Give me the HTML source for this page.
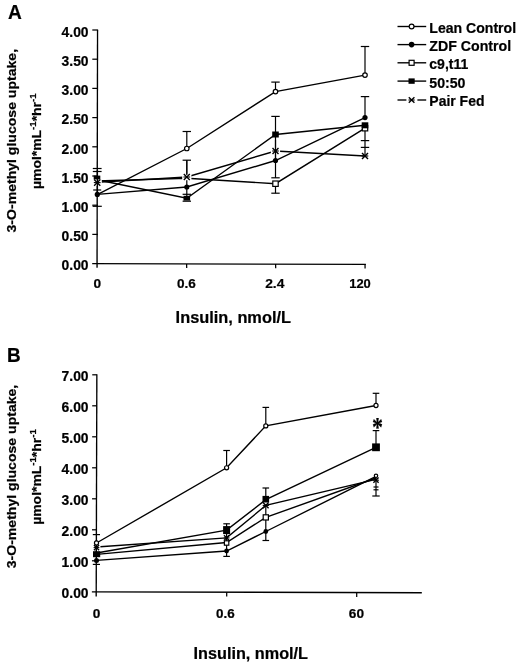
<!DOCTYPE html>
<html lang="en">
<head>
<meta charset="utf-8">
<title>Figure: 3-O-methyl glucose uptake vs insulin</title>
<style>
  html, body { margin: 0; padding: 0; background: #ffffff; }
  body { width: 520px; height: 664px; overflow: hidden; font-family: "Liberation Sans", Arial, sans-serif; }
  svg { display: block; will-change: transform; }
</style>
</head>
<body>
<svg width="520" height="664" viewBox="0 0 520 664" font-family="'Liberation Sans', Arial, Helvetica, sans-serif" font-weight="bold" fill="#000" stroke="#000">
<rect x="0" y="0" width="520" height="664" fill="#fff" stroke="none"/>
<g stroke="#000" stroke-width="0.22">
<text x="8.00" y="19.10" font-size="20.4" text-anchor="start" textLength="13.8" lengthAdjust="spacingAndGlyphs">A</text>
<text x="7.00" y="362.10" font-size="20.4" text-anchor="start" textLength="13.7" lengthAdjust="spacingAndGlyphs">B</text>
<text x="88.60" y="270.40" font-size="13.9" text-anchor="end" textLength="27.0" lengthAdjust="spacingAndGlyphs">0.00</text>
<text x="88.60" y="241.20" font-size="13.9" text-anchor="end" textLength="27.0" lengthAdjust="spacingAndGlyphs">0.50</text>
<text x="88.60" y="212.00" font-size="13.9" text-anchor="end" textLength="27.0" lengthAdjust="spacingAndGlyphs">1.00</text>
<text x="88.60" y="182.80" font-size="13.9" text-anchor="end" textLength="27.0" lengthAdjust="spacingAndGlyphs">1.50</text>
<text x="88.60" y="153.60" font-size="13.9" text-anchor="end" textLength="27.0" lengthAdjust="spacingAndGlyphs">2.00</text>
<text x="88.60" y="124.40" font-size="13.9" text-anchor="end" textLength="27.0" lengthAdjust="spacingAndGlyphs">2.50</text>
<text x="88.60" y="95.20" font-size="13.9" text-anchor="end" textLength="27.0" lengthAdjust="spacingAndGlyphs">3.00</text>
<text x="88.60" y="66.00" font-size="13.9" text-anchor="end" textLength="27.0" lengthAdjust="spacingAndGlyphs">3.50</text>
<text x="88.60" y="36.80" font-size="13.9" text-anchor="end" textLength="27.0" lengthAdjust="spacingAndGlyphs">4.00</text>
<text x="97.30" y="287.60" font-size="13.4" text-anchor="middle" textLength="7.6" lengthAdjust="spacingAndGlyphs">0</text>
<text x="186.40" y="287.60" font-size="13.4" text-anchor="middle" textLength="18.9" lengthAdjust="spacingAndGlyphs">0.6</text>
<text x="274.80" y="287.60" font-size="13.4" text-anchor="middle" textLength="19.2" lengthAdjust="spacingAndGlyphs">2.4</text>
<text x="360.00" y="287.60" font-size="13.4" text-anchor="middle" textLength="21.6" lengthAdjust="spacingAndGlyphs">120</text>
<text x="175.60" y="323.30" font-size="16.6" text-anchor="start" textLength="115.4" lengthAdjust="spacingAndGlyphs">Insulin, nmol/L</text>
<text x="88.60" y="597.80" font-size="13.9" text-anchor="end" textLength="27.0" lengthAdjust="spacingAndGlyphs">0.00</text>
<text x="88.60" y="566.80" font-size="13.9" text-anchor="end" textLength="27.0" lengthAdjust="spacingAndGlyphs">1.00</text>
<text x="88.60" y="535.80" font-size="13.9" text-anchor="end" textLength="27.0" lengthAdjust="spacingAndGlyphs">2.00</text>
<text x="88.60" y="504.80" font-size="13.9" text-anchor="end" textLength="27.0" lengthAdjust="spacingAndGlyphs">3.00</text>
<text x="88.60" y="473.80" font-size="13.9" text-anchor="end" textLength="27.0" lengthAdjust="spacingAndGlyphs">4.00</text>
<text x="88.60" y="442.80" font-size="13.9" text-anchor="end" textLength="27.0" lengthAdjust="spacingAndGlyphs">5.00</text>
<text x="88.60" y="411.80" font-size="13.9" text-anchor="end" textLength="27.0" lengthAdjust="spacingAndGlyphs">6.00</text>
<text x="88.60" y="380.80" font-size="13.9" text-anchor="end" textLength="27.0" lengthAdjust="spacingAndGlyphs">7.00</text>
<text x="96.50" y="618.30" font-size="13.4" text-anchor="middle" textLength="7.6" lengthAdjust="spacingAndGlyphs">0</text>
<text x="225.40" y="618.30" font-size="13.4" text-anchor="middle" textLength="18.7" lengthAdjust="spacingAndGlyphs">0.6</text>
<text x="356.40" y="618.30" font-size="13.4" text-anchor="middle" textLength="15.2" lengthAdjust="spacingAndGlyphs">60</text>
<text x="193.60" y="658.90" font-size="16.6" text-anchor="start" textLength="114.4" lengthAdjust="spacingAndGlyphs">Insulin, nmol/L</text>
<g transform="translate(15.9,140.7) rotate(-90)">
<text x="0.00" y="0.00" font-size="13.3" text-anchor="middle" textLength="183.5" lengthAdjust="spacingAndGlyphs">3-O-methyl glucose uptake,</text>
</g>
<g transform="translate(41.3,141.2) rotate(-90)">
<text x="0" y="0" font-size="13.3" text-anchor="middle" textLength="95.6" lengthAdjust="spacingAndGlyphs">&#181;mol*mL<tspan font-size="9.2" dy="-5.0">-1</tspan><tspan dy="5.0">*hr</tspan><tspan font-size="9.2" dy="-5.0">-1</tspan></text>
</g>
<g transform="translate(15.9,476.5) rotate(-90)">
<text x="0.00" y="0.00" font-size="13.3" text-anchor="middle" textLength="183.5" lengthAdjust="spacingAndGlyphs">3-O-methyl glucose uptake,</text>
</g>
<g transform="translate(41.3,477.0) rotate(-90)">
<text x="0" y="0" font-size="13.3" text-anchor="middle" textLength="95.6" lengthAdjust="spacingAndGlyphs">&#181;mol*mL<tspan font-size="9.2" dy="-5.0">-1</tspan><tspan dy="5.0">*hr</tspan><tspan font-size="9.2" dy="-5.0">-1</tspan></text>
</g>
<text x="429.30" y="32.70" font-size="14.8" text-anchor="start" textLength="86.8" lengthAdjust="spacingAndGlyphs">Lean Control</text>
<text x="429.30" y="51.00" font-size="14.8" text-anchor="start" textLength="81.8" lengthAdjust="spacingAndGlyphs">ZDF Control</text>
<text x="429.30" y="69.40" font-size="14.8" text-anchor="start" textLength="39.0" lengthAdjust="spacingAndGlyphs">c9,t11</text>
<text x="429.30" y="87.80" font-size="14.8" text-anchor="start" textLength="36.2" lengthAdjust="spacingAndGlyphs">50:50</text>
<text x="429.30" y="106.30" font-size="14.8" text-anchor="start" textLength="55.2" lengthAdjust="spacingAndGlyphs">Pair Fed</text>
<text transform="translate(377.5,436.4) scale(0.88,1.06)" x="0" y="0" font-size="25" text-anchor="middle" font-weight="bold" font-family="'Liberation Serif', 'Times New Roman', serif">*</text>
</g>
<line x1="97.55" y1="29.70" x2="97.05" y2="267.70" stroke-width="1.35"/>
<line x1="92.20" y1="263.60" x2="365.90" y2="264.40" stroke-width="1.35"/>
<line x1="92.30" y1="234.40" x2="97.80" y2="234.40" stroke-width="1.25"/>
<line x1="92.30" y1="205.20" x2="97.80" y2="205.20" stroke-width="1.25"/>
<line x1="92.30" y1="176.00" x2="97.80" y2="176.00" stroke-width="1.25"/>
<line x1="92.30" y1="146.80" x2="97.80" y2="146.80" stroke-width="1.25"/>
<line x1="92.30" y1="117.60" x2="97.80" y2="117.60" stroke-width="1.25"/>
<line x1="92.30" y1="88.40" x2="97.80" y2="88.40" stroke-width="1.25"/>
<line x1="92.30" y1="59.20" x2="97.80" y2="59.20" stroke-width="1.25"/>
<line x1="92.30" y1="30.00" x2="97.80" y2="30.00" stroke-width="1.25"/>
<line x1="186.60" y1="263.90" x2="186.70" y2="267.90" stroke-width="1.25"/>
<line x1="275.60" y1="263.90" x2="275.70" y2="268.15" stroke-width="1.25"/>
<line x1="365.00" y1="263.90" x2="365.10" y2="268.40" stroke-width="1.25"/>
<polyline points="97.30,194.60 186.80,148.50 275.50,91.60 365.00,75.10" fill="none" stroke-width="1.38"/>
<polyline points="97.30,194.40 186.80,187.00 275.50,160.50 365.00,117.60" fill="none" stroke-width="1.38"/>
<polyline points="97.00,181.00 186.80,178.20 275.50,183.70 365.00,128.20" fill="none" stroke-width="1.38"/>
<polyline points="97.00,179.80 186.80,198.20 275.50,134.50 365.00,125.30" fill="none" stroke-width="1.38"/>
<polyline points="97.00,182.40 186.80,177.00 275.50,151.00 365.00,156.00" fill="none" stroke-width="1.38"/>
<line x1="92.80" y1="168.50" x2="101.60" y2="168.50" stroke-width="1.2"/>
<line x1="92.80" y1="171.50" x2="101.60" y2="171.50" stroke-width="1.2"/>
<line x1="93.20" y1="190.00" x2="101.20" y2="190.00" stroke-width="1.2"/>
<line x1="92.60" y1="206.30" x2="101.80" y2="206.30" stroke-width="1.2"/>
<line x1="186.80" y1="148.50" x2="186.80" y2="131.50" stroke-width="1.2"/>
<line x1="182.60" y1="131.50" x2="191.00" y2="131.50" stroke-width="1.2"/>
<line x1="186.80" y1="177.00" x2="186.80" y2="160.20" stroke-width="1.2"/>
<line x1="182.60" y1="160.20" x2="191.00" y2="160.20" stroke-width="1.2"/>
<line x1="186.80" y1="177.00" x2="186.80" y2="199.00" stroke-width="1.2"/>
<line x1="182.60" y1="194.30" x2="191.00" y2="194.30" stroke-width="1.2"/>
<line x1="182.60" y1="201.20" x2="191.00" y2="201.20" stroke-width="1.2"/>
<line x1="275.50" y1="91.60" x2="275.50" y2="82.10" stroke-width="1.2"/>
<line x1="271.30" y1="82.10" x2="279.70" y2="82.10" stroke-width="1.2"/>
<line x1="275.50" y1="134.50" x2="275.50" y2="116.40" stroke-width="1.2"/>
<line x1="271.30" y1="116.40" x2="279.70" y2="116.40" stroke-width="1.2"/>
<line x1="275.50" y1="134.50" x2="275.50" y2="177.80" stroke-width="1.2"/>
<line x1="271.30" y1="177.80" x2="279.70" y2="177.80" stroke-width="1.2"/>
<line x1="275.50" y1="183.70" x2="275.50" y2="193.20" stroke-width="1.2"/>
<line x1="271.30" y1="193.20" x2="279.70" y2="193.20" stroke-width="1.2"/>
<line x1="365.00" y1="75.10" x2="365.00" y2="46.50" stroke-width="1.2"/>
<line x1="360.80" y1="46.50" x2="369.20" y2="46.50" stroke-width="1.2"/>
<line x1="365.00" y1="117.60" x2="365.00" y2="96.60" stroke-width="1.2"/>
<line x1="360.80" y1="96.60" x2="369.20" y2="96.60" stroke-width="1.2"/>
<line x1="365.00" y1="128.00" x2="365.00" y2="156.00" stroke-width="1.2"/>
<line x1="360.80" y1="140.60" x2="369.20" y2="140.60" stroke-width="1.2"/>
<line x1="360.80" y1="147.40" x2="369.20" y2="147.40" stroke-width="1.2"/>
<circle cx="186.80" cy="148.50" r="2.25" fill="#fff" stroke-width="1.2"/>
<circle cx="275.50" cy="91.60" r="2.25" fill="#fff" stroke-width="1.2"/>
<circle cx="365.00" cy="75.10" r="2.25" fill="#fff" stroke-width="1.2"/>
<circle cx="97.30" cy="194.40" r="2.6" fill="#000" stroke="none"/>
<circle cx="186.80" cy="187.00" r="2.6" fill="#000" stroke="none"/>
<circle cx="275.50" cy="160.50" r="2.6" fill="#000" stroke="none"/>
<circle cx="365.00" cy="117.60" r="2.6" fill="#000" stroke="none"/>
<rect x="272.80" y="181.00" width="5.4" height="5.4" fill="#fff" stroke-width="1.2"/>
<rect x="362.30" y="125.50" width="5.4" height="5.4" fill="#fff" stroke-width="1.2"/>
<rect x="93.70" y="175.60" width="6.6" height="4.8" fill="#000" stroke="none"/>
<rect x="183.50" y="195.80" width="6.6" height="4.8" fill="#000" stroke="none"/>
<rect x="272.20" y="131.50" width="6.6" height="6.0" fill="#000" stroke="none"/>
<rect x="361.70" y="122.30" width="6.6" height="6.0" fill="#000" stroke="none"/>
<rect x="92.60" y="179.40" width="9.2" height="6.4" fill="#fff" stroke="none"/>
<line x1="94.10" y1="179.50" x2="100.30" y2="185.70" stroke-width="1.35"/>
<line x1="94.10" y1="185.70" x2="100.30" y2="179.50" stroke-width="1.35"/>
<line x1="93.80" y1="182.60" x2="100.60" y2="182.60" stroke-width="1.1"/>
<line x1="97.40" y1="170.00" x2="97.40" y2="195.00" stroke-width="1.35"/>
<rect x="182.20" y="173.80" width="9.2" height="6.4" fill="#fff" stroke="none"/>
<line x1="183.80" y1="174.00" x2="189.80" y2="180.00" stroke-width="1.35"/>
<line x1="183.80" y1="180.00" x2="189.80" y2="174.00" stroke-width="1.35"/>
<line x1="183.50" y1="177.00" x2="190.10" y2="177.00" stroke-width="1.1"/>
<rect x="270.90" y="147.80" width="9.2" height="6.4" fill="#fff" stroke="none"/>
<line x1="272.50" y1="148.00" x2="278.50" y2="154.00" stroke-width="1.35"/>
<line x1="272.50" y1="154.00" x2="278.50" y2="148.00" stroke-width="1.35"/>
<line x1="272.20" y1="151.00" x2="278.80" y2="151.00" stroke-width="1.1"/>
<line x1="362.00" y1="153.00" x2="368.00" y2="159.00" stroke-width="1.35"/>
<line x1="362.00" y1="159.00" x2="368.00" y2="153.00" stroke-width="1.35"/>
<line x1="361.70" y1="156.00" x2="368.30" y2="156.00" stroke-width="1.1"/>
<line x1="186.80" y1="160.20" x2="186.80" y2="175.00" stroke-width="1.2"/>
<line x1="275.50" y1="140.00" x2="275.50" y2="160.00" stroke-width="1.2"/>
<line x1="397.50" y1="26.50" x2="426.20" y2="26.50" stroke-width="1.38"/>
<circle cx="411.60" cy="26.50" r="2.4" fill="#fff" stroke-width="1.2"/>
<line x1="397.50" y1="44.60" x2="426.20" y2="44.60" stroke-width="1.38"/>
<circle cx="411.60" cy="44.60" r="2.8" fill="#000" stroke="none"/>
<line x1="397.50" y1="62.80" x2="426.20" y2="62.80" stroke-width="1.38"/>
<rect x="409.10" y="60.30" width="5.0" height="5.0" fill="#fff" stroke-width="1.2"/>
<line x1="397.50" y1="81.10" x2="426.20" y2="81.10" stroke-width="1.38"/>
<rect x="408.50" y="78.40" width="6.2" height="5.4" fill="#000" stroke="none"/>
<line x1="397.50" y1="100.00" x2="406.40" y2="100.00" stroke-width="1.38"/>
<line x1="417.40" y1="100.00" x2="426.20" y2="100.00" stroke-width="1.38"/>
<line x1="408.80" y1="97.20" x2="414.40" y2="102.80" stroke-width="1.35"/>
<line x1="408.80" y1="102.80" x2="414.40" y2="97.20" stroke-width="1.35"/>
<line x1="408.50" y1="100.00" x2="414.70" y2="100.00" stroke-width="1.1"/>
<line x1="96.85" y1="374.20" x2="96.20" y2="596.60" stroke-width="1.35"/>
<line x1="91.90" y1="591.80" x2="421.80" y2="592.70" stroke-width="1.35"/>
<line x1="91.95" y1="560.80" x2="96.80" y2="560.80" stroke-width="1.25"/>
<line x1="92.00" y1="529.80" x2="96.80" y2="529.80" stroke-width="1.25"/>
<line x1="92.05" y1="498.80" x2="96.80" y2="498.80" stroke-width="1.25"/>
<line x1="92.10" y1="467.80" x2="96.80" y2="467.80" stroke-width="1.25"/>
<line x1="92.15" y1="436.80" x2="96.80" y2="436.80" stroke-width="1.25"/>
<line x1="92.20" y1="405.80" x2="96.80" y2="405.80" stroke-width="1.25"/>
<line x1="92.25" y1="374.80" x2="96.80" y2="374.80" stroke-width="1.25"/>
<line x1="226.70" y1="592.20" x2="226.70" y2="596.60" stroke-width="1.25"/>
<line x1="356.70" y1="592.20" x2="356.70" y2="596.90" stroke-width="1.25"/>
<polyline points="96.50,543.00 226.60,467.80 265.80,425.90 376.00,405.50" fill="none" stroke-width="1.38"/>
<polyline points="96.50,553.00 226.60,530.10 265.80,499.70 376.00,447.30" fill="none" stroke-width="1.38"/>
<polyline points="96.50,547.00 226.60,537.90 265.80,505.40 376.00,479.40" fill="none" stroke-width="1.38"/>
<polyline points="96.50,554.40 226.60,542.50 265.80,517.40 376.00,478.00" fill="none" stroke-width="1.38"/>
<polyline points="96.50,560.40 226.60,551.00 265.80,531.50 376.00,476.40" fill="none" stroke-width="1.38"/>
<line x1="92.80" y1="534.60" x2="100.00" y2="534.60" stroke-width="1.2"/>
<line x1="92.80" y1="564.40" x2="100.00" y2="564.40" stroke-width="1.2"/>
<line x1="226.60" y1="467.80" x2="226.60" y2="450.50" stroke-width="1.2"/>
<line x1="223.30" y1="450.50" x2="229.90" y2="450.50" stroke-width="1.2"/>
<line x1="226.60" y1="530.10" x2="226.60" y2="523.80" stroke-width="1.2"/>
<line x1="223.30" y1="523.80" x2="229.90" y2="523.80" stroke-width="1.2"/>
<line x1="226.60" y1="530.00" x2="226.60" y2="556.40" stroke-width="1.2"/>
<line x1="223.30" y1="556.40" x2="229.90" y2="556.40" stroke-width="1.2"/>
<line x1="265.80" y1="425.90" x2="265.80" y2="407.40" stroke-width="1.2"/>
<line x1="262.50" y1="407.40" x2="269.10" y2="407.40" stroke-width="1.2"/>
<line x1="265.80" y1="499.70" x2="265.80" y2="488.00" stroke-width="1.2"/>
<line x1="262.50" y1="488.00" x2="269.10" y2="488.00" stroke-width="1.2"/>
<line x1="265.80" y1="505.00" x2="265.80" y2="540.50" stroke-width="1.2"/>
<line x1="262.50" y1="540.50" x2="269.10" y2="540.50" stroke-width="1.2"/>
<line x1="376.00" y1="405.50" x2="376.00" y2="393.30" stroke-width="1.2"/>
<line x1="372.70" y1="393.30" x2="379.30" y2="393.30" stroke-width="1.2"/>
<line x1="376.00" y1="447.30" x2="376.00" y2="430.60" stroke-width="1.2"/>
<line x1="372.70" y1="430.60" x2="379.30" y2="430.60" stroke-width="1.2"/>
<line x1="376.00" y1="476.00" x2="376.00" y2="496.00" stroke-width="1.2"/>
<line x1="372.30" y1="496.00" x2="379.70" y2="496.00" stroke-width="1.2"/>
<line x1="373.50" y1="487.00" x2="378.50" y2="487.00" stroke-width="1.2"/>
<line x1="373.50" y1="489.80" x2="378.50" y2="489.80" stroke-width="1.2"/>
<rect x="92.4" y="545.0" width="8.0" height="5.2" fill="#fff" stroke="none"/>
<line x1="96.40" y1="540.00" x2="96.35" y2="552.00" stroke-width="1.35"/>
<line x1="93.90" y1="545.00" x2="99.10" y2="550.20" stroke-width="1.35"/>
<line x1="93.90" y1="550.20" x2="99.10" y2="545.00" stroke-width="1.35"/>
<line x1="93.60" y1="547.60" x2="99.40" y2="547.60" stroke-width="1.1"/>
<line x1="224.00" y1="535.30" x2="229.20" y2="540.50" stroke-width="1.35"/>
<line x1="224.00" y1="540.50" x2="229.20" y2="535.30" stroke-width="1.35"/>
<line x1="223.70" y1="537.90" x2="229.50" y2="537.90" stroke-width="1.1"/>
<line x1="263.00" y1="502.60" x2="268.60" y2="508.20" stroke-width="1.35"/>
<line x1="263.00" y1="508.20" x2="268.60" y2="502.60" stroke-width="1.35"/>
<line x1="262.70" y1="505.40" x2="268.90" y2="505.40" stroke-width="1.1"/>
<line x1="373.40" y1="477.60" x2="378.60" y2="482.80" stroke-width="1.35"/>
<line x1="373.40" y1="482.80" x2="378.60" y2="477.60" stroke-width="1.35"/>
<line x1="373.10" y1="480.20" x2="378.90" y2="480.20" stroke-width="1.1"/>
<rect x="224.40" y="540.80" width="4.4" height="4.4" fill="#fff" stroke-width="1.2"/>
<rect x="263.20" y="514.80" width="5.2" height="5.2" fill="#fff" stroke-width="1.2"/>
<rect x="93.00" y="551.20" width="7.2" height="6.0" fill="#000" stroke="none"/>
<rect x="223.10" y="526.10" width="7.0" height="8.0" fill="#000" stroke="none"/>
<rect x="262.50" y="495.90" width="6.6" height="6.6" fill="#000" stroke="none"/>
<rect x="372.10" y="443.40" width="7.8" height="7.8" fill="#000" stroke="none"/>
<circle cx="96.50" cy="560.60" r="2.5" fill="#000" stroke="none"/>
<circle cx="226.60" cy="551.00" r="2.4" fill="#000" stroke="none"/>
<circle cx="265.80" cy="531.50" r="2.4" fill="#000" stroke="none"/>
<circle cx="376.00" cy="475.80" r="1.7" fill="#fff" stroke-width="1.2"/>
<circle cx="96.50" cy="543.00" r="2.05" fill="#fff" stroke-width="1.2"/>
<circle cx="226.60" cy="467.80" r="2.05" fill="#fff" stroke-width="1.2"/>
<circle cx="265.80" cy="425.90" r="2.05" fill="#fff" stroke-width="1.2"/>
<circle cx="376.00" cy="405.50" r="2.05" fill="#fff" stroke-width="1.2"/>
</svg>
</body>
</html>
